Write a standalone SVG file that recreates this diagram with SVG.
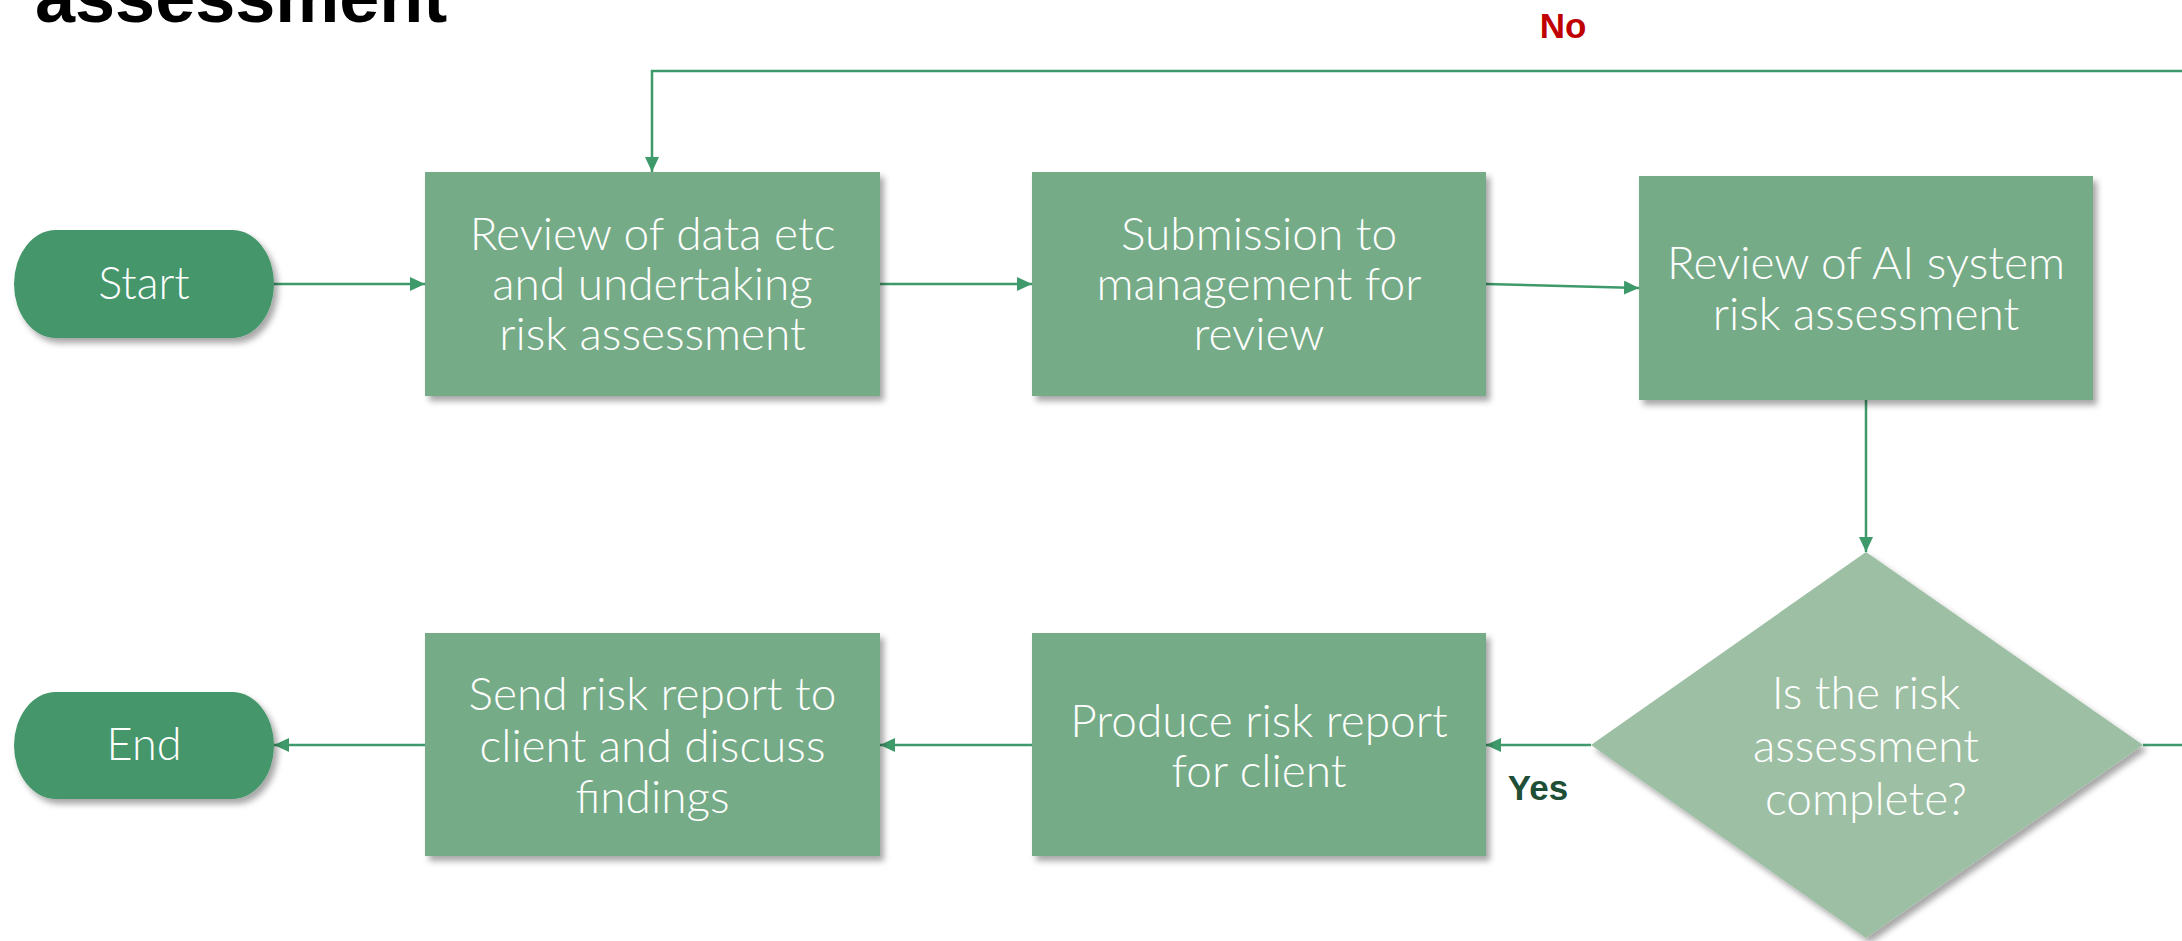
<svg xmlns="http://www.w3.org/2000/svg" width="2182" height="941" viewBox="0 0 2182 941">
  <style>
    .box { fill: #76AB87; filter: url(#shadow); }
    .pill { fill: #44966A; filter: url(#shadow); }
    .dia { fill: #9DBFA4; filter: url(#shadow); }
    .lbl { font-family: Lato, "Liberation Sans", Arial, sans-serif; font-weight: 300; font-size: 46px; fill: #FFFFFF; text-anchor: middle; }
    .term { font-family: Lato, "Liberation Sans", Arial, sans-serif; font-weight: 300; font-size: 45px; fill: #FFFFFF; text-anchor: middle; }
    .conn { fill: none; stroke: #3F9A6B; stroke-width: 2.5; }
    .arr { marker-end: url(#ah); }
    .title { font-family: "Liberation Sans", Arial, sans-serif; font-weight: bold; font-size: 72px; fill: #000000; }
    .no { font-family: "Liberation Sans", Arial, sans-serif; font-weight: bold; font-size: 35px; fill: #C00000; text-anchor: middle; }
    .yes { font-family: "Liberation Sans", Arial, sans-serif; font-weight: bold; font-size: 35px; fill: #1F4E37; text-anchor: middle; }
  </style>
  <defs>
    <filter id="shadow" x="-10%" y="-10%" width="125%" height="130%">
      <feDropShadow dx="4" dy="5" stdDeviation="3" flood-color="#000000" flood-opacity="0.35"/>
    </filter>
    <marker id="ah" markerUnits="userSpaceOnUse" markerWidth="16" markerHeight="14" refX="15" refY="7" orient="auto">
      <path d="M0,0 L15,7 L0,14 Z" fill="#3F9A6B"/>
    </marker>
  </defs>
  <rect width="2182" height="941" fill="#FFFFFF"/>

  <text class="title" x="35" y="22">assessment</text>

  <g id="connectors">
    <path class="conn arr" d="M274,284 H425"/>
    <path class="conn arr" d="M880,284 H1032"/>
    <path class="conn arr" d="M1486,284 L1639,288"/>
    <path class="conn arr" d="M1866,400 V552"/>
    <path class="conn arr" d="M1591,745 H1486"/>
    <path class="conn arr" d="M1032,745 H880"/>
    <path class="conn arr" d="M425,745 H274"/>
    <path class="conn arr" d="M2143,745 H2200 V71 H652 V172"/>
    <text class="no" x="1563" y="38">No</text>
    <text class="yes" x="1538" y="800">Yes</text>
  </g>

  <g id="start">
    <rect class="pill" x="14" y="230" width="260" height="108" rx="42" ry="54"/>
    <text class="term" x="144" y="299">Start</text>
  </g>
  <g id="review-data">
    <rect class="box" x="425" y="172" width="455" height="224"/>
    <text class="lbl" x="652.5" y="250">Review of data etc</text>
    <text class="lbl" x="652.5" y="300">and undertaking</text>
    <text class="lbl" x="652.5" y="350">risk assessment</text>
  </g>
  <g id="submission">
    <rect class="box" x="1032" y="172" width="454" height="224"/>
    <text class="lbl" x="1259" y="250">Submission to</text>
    <text class="lbl" x="1259" y="300">management for</text>
    <text class="lbl" x="1259" y="350">review</text>
  </g>
  <g id="review-ai">
    <rect class="box" x="1639" y="176" width="454" height="224"/>
    <text class="lbl" x="1866" y="279">Review of AI system</text>
    <text class="lbl" x="1866" y="330">risk assessment</text>
  </g>
  <g id="decision">
    <polygon class="dia" points="1866,552 2143,745 1866,938 1591,745"/>
    <text class="lbl" x="1866" y="709">Is the risk</text>
    <text class="lbl" x="1866" y="762">assessment</text>
    <text class="lbl" x="1866" y="815">complete?</text>
  </g>
  <g id="produce-report">
    <rect class="box" x="1032" y="633" width="454" height="223"/>
    <text class="lbl" x="1259" y="737">Produce risk report</text>
    <text class="lbl" x="1259" y="787">for client</text>
  </g>
  <g id="send-report">
    <rect class="box" x="425" y="633" width="455" height="223"/>
    <text class="lbl" x="652.5" y="710">Send risk report to</text>
    <text class="lbl" x="652.5" y="762">client and discuss</text>
    <text class="lbl" x="652.5" y="813">findings</text>
  </g>
  <g id="end">
    <rect class="pill" x="14" y="692" width="260" height="107" rx="42" ry="53.5"/>
    <text class="term" x="144" y="760">End</text>
  </g>
</svg>
